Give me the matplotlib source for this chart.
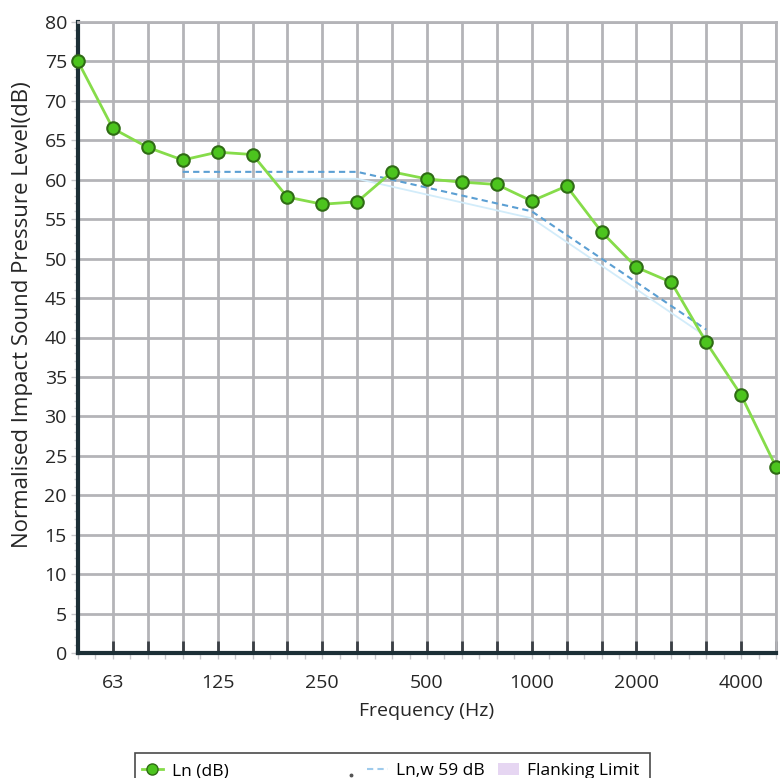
import matplotlib
matplotlib.use("Agg")
import matplotlib.pyplot as plt
import matplotlib.transforms as mtransforms
from matplotlib.lines import Line2D
from matplotlib.patches import Patch, Rectangle
from matplotlib.ticker import MultipleLocator

plt.rcParams['font.family'] = ['Open Sans', 'DejaVu Sans']

freqs = ["50", "63", "80", "100", "125", "160", "200", "250", "315", "400", "500",
         "630", "800", "1000", "1250", "1600", "2000", "2500", "3150", "4000", "5000"]
ln_db = [75.0, 66.5, 64.1, 62.5, 63.5, 63.2, 57.8, 56.9, 57.2, 61.0, 60.1,
         59.7, 59.4, 57.3, 59.2, 53.4, 48.9, 47.0, 39.4, 32.7, 23.6]
ref_freqs = ["100", "125", "160", "200", "250", "315", "400", "500",
             "630", "800", "1000", "1250", "1600", "2000", "2500", "3150"]
ref_db = [61, 61, 61, 61, 61, 61, 60, 59, 58, 57, 56, 53, 50, 47, 44, 41]
labelled = ["63", "125", "250", "500", "1000", "2000", "4000"]

FS = 14
TXT = '#262626'

fig = plt.figure(figsize=(7.8, 7.78), dpi=100)
ax = fig.add_axes([78/780, 1-653/778, (776-78)/780, (653-22)/778])

x = list(range(len(freqs)))
xref = [freqs.index(f) for f in ref_freqs]

ax.set_xlim(0, len(freqs)-1)
ax.set_ylim(0, 80)

grid_c = '#b4b4b8'
ax.set_axisbelow(True)
ax.set_xticks(x)
ax.set_xticklabels([f if f in labelled else "" for f in freqs])
ax.set_yticks(range(0, 81, 5))
ax.grid(True, color=grid_c, lw=2)
ax.yaxis.set_minor_locator(MultipleLocator(1))
ax.xaxis.set_minor_locator(MultipleLocator(0.5))
ax.xaxis.remove_overlapping_locs = False
ax.tick_params(axis='x', which='major', direction='in', length=9, width=2,
               color='#3a3f44', labelsize=FS, pad=15, labelcolor=TXT)
ax.tick_params(axis='x', which='minor', direction='out', length=4, width=1,
               color='#c8c8cc')
ax.tick_params(axis='y', which='major', direction='out', length=5, width=1,
               color='#c8c8cc', labelsize=FS, pad=3, labelcolor=TXT)
ax.tick_params(axis='y', which='minor', direction='out', length=3, width=1,
               color='#d0d0d4')

for s in ['left', 'bottom']:
    ax.spines[s].set_color('#1c2f36')
    ax.spines[s].set_linewidth(3)
for s in ['top', 'right']:
    ax.spines[s].set_color(grid_c)
    ax.spines[s].set_linewidth(2)

shadow = mtransforms.offset_copy(ax.transData, fig=fig, x=0, y=-5, units='points')
ax.plot(xref, ref_db, color='#d2ecfa', lw=1.3, transform=shadow, zorder=3)
ax.plot(xref, ref_db, color='#5b9fd3', lw=1.5, ls=(0, (3, 2)), zorder=4)
ax.plot(x, ln_db, color='#86dc4a', lw=2, marker='o', markersize=9,
        markerfacecolor='#4cc41e', markeredgecolor='#2f6b15', markeredgewidth=1.5,
        zorder=5, clip_on=False)

ax.set_xlabel("Frequency (Hz)", fontsize=FS, labelpad=7, color=TXT)
ax.set_ylabel("Normalised Impact Sound Pressure Level(dB)", fontsize=16, color=TXT)
ax.yaxis.set_label_coords(-0.064, 0.537)

# legend frame
fig.patches.append(Rectangle((135/780, -10/778), 515/780, (778 - 753 + 10)/778,
                             transform=fig.transFigure, fill=False,
                             edgecolor='#4a4a4a', lw=1.2))

LFS = 12.5
h1 = Line2D([], [], color='#86dc4a', lw=2, marker='o', markersize=8,
            markerfacecolor='#4cc41e', markeredgecolor='#2f6b15')
h2 = Line2D([], [], color='#9fcbec', lw=1.5, ls=(0, (3, 2)))
h3 = Patch(facecolor='#e6d6f2', edgecolor='none')
legA = fig.legend([h1], ["Ln (dB)"], loc='center left',
                  bbox_to_anchor=(142/780, 1-771/778), frameon=False,
                  fontsize=LFS, handlelength=1.2, handletextpad=0.5,
                  borderaxespad=0, borderpad=0)
legB = fig.legend([h2, h3], ["Ln,w 59 dB", "Flanking Limit"], loc='center left',
                  bbox_to_anchor=(367/780, 1-771/778), frameon=False, ncol=2,
                  fontsize=LFS, handlelength=1.2, handletextpad=0.45,
                  columnspacing=0.8, borderaxespad=0, borderpad=0)
fig.add_artist(Line2D([351/780], [1-775/778], transform=fig.transFigure,
                      marker='o', markersize=1.8, color='#555555', ls='none'))

fig.savefig("out.png", dpi=100)
